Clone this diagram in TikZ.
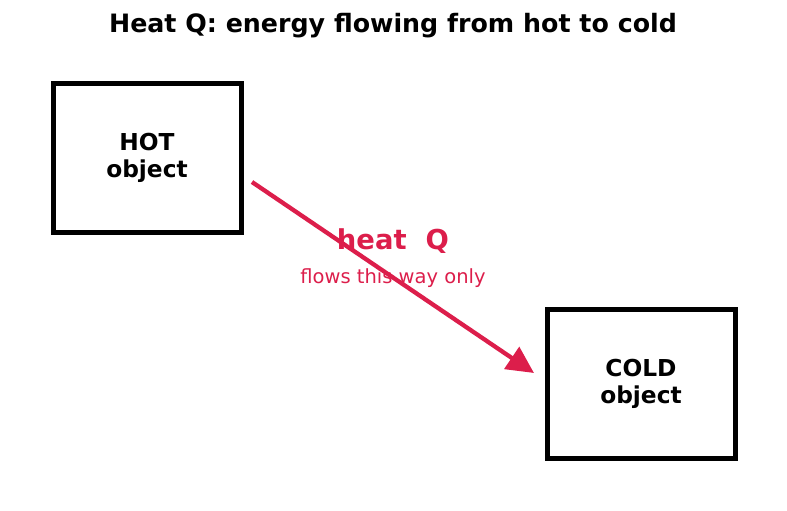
\documentclass[tikz,border=0pt]{standalone}
\usepackage{fontspec}
\setmainfont{DejaVu Sans}
\usetikzlibrary{arrows.meta}
\definecolor{heatred}{RGB}{220,30,75}
\tikzset{
  objbox/.style={draw=black, line width=5pt, minimum width=188pt, minimum height=149pt, inner sep=0pt, align=center, font=\fontsize{23.3pt}{27pt}\selectfont\bfseries},
  heatarrow/.style={draw=heatred, line width=4.3pt, -{Triangle[length=27pt,width=26pt]}}
}
\begin{document}
\begin{tikzpicture}[x=1pt,y=-1pt]
\useasboundingbox (0,0) rectangle (787,511);
\node[font=\fontsize{25.3pt}{28pt}\selectfont\bfseries] (title) at (393,26) {Heat Q: energy flowing from hot to cold};
\node[objbox] (hot) at (147,157.5) {\raisebox{-2pt}{HOT}\\\raisebox{-2pt}{object}};
\node[objbox] (cold) at (641,383.5) {\raisebox{-2pt}{COLD}\\\raisebox{-2pt}{object}};
\coordinate (a0) at (252,182);
\coordinate (a1) at (534,373);
\draw[heatarrow] (a0) -- (a1);
\node[text=heatred, font=\fontsize{27.4pt}{30pt}\selectfont\bfseries] (heat) at (393,241) {heat\ \ Q};
\node[text=heatred, font=\fontsize{19.5pt}{22pt}\selectfont] (flows) at (393,278) {flows this way only};
\end{tikzpicture}
\end{document}
